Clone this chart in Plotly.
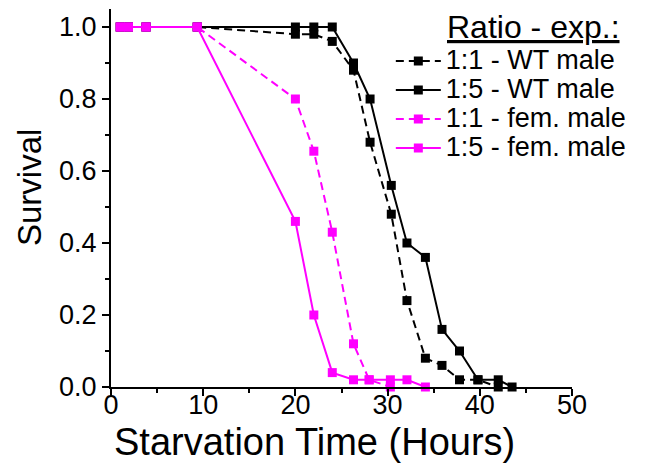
import plotly.graph_objects as go

# Starvation time points (hours)
hours_wt_11 = [1, 1.9, 3.8, 9.35, 20.0, 22.0, 24.0, 26.3, 28.1, 30.4, 32.1, 34.1, 35.9, 37.8, 39.8, 42.0]
surv_wt_11 = [1.0, 1.0, 1.0, 1.0, 0.98, 0.98, 0.96, 0.88, 0.68, 0.48, 0.24, 0.08, 0.06, 0.02, 0.02, 0.0]

hours_wt_15 = [1, 1.9, 3.8, 9.35, 20.0, 22.0, 24.0, 26.3, 28.1, 30.4, 32.1, 34.1, 35.9, 37.8, 39.8, 42.0, 43.5]
surv_wt_15 = [1.0, 1.0, 1.0, 1.0, 1.0, 1.0, 1.0, 0.90, 0.80, 0.56, 0.40, 0.36, 0.16, 0.10, 0.02, 0.02, 0.0]

hours_fem_11 = [1, 1.9, 3.8, 9.35, 20.0, 22.0, 24.0, 26.3, 28.0, 30.3]
surv_fem_11 = [1.0, 1.0, 1.0, 1.0, 0.80, 0.655, 0.43, 0.12, 0.02, 0.0]

hours_fem_15 = [1, 1.9, 3.8, 9.35, 20.0, 22.0, 24.0, 26.3, 28.0, 30.3, 32.1, 34.1]
surv_fem_15 = [1.0, 1.0, 1.0, 1.0, 0.46, 0.20, 0.04, 0.02, 0.02, 0.02, 0.02, 0.0]

x_ticks = [0, 10, 20, 30, 40, 50]
y_ticks = [0.0, 0.2, 0.4, 0.6, 0.8, 1.0]

series = [
    ("1:1 - WT male", hours_wt_11, surv_wt_11, "black", "8px,5px"),
    ("1:5 - WT male", hours_wt_15, surv_wt_15, "black", "solid"),
    ("1:1 - fem. male", hours_fem_11, surv_fem_11, "#FF00FF", "8px,5px"),
    ("1:5 - fem. male", hours_fem_15, surv_fem_15, "#FF00FF", "solid"),
]

FONT = "Liberation Sans, Arial, sans-serif"

fig = go.Figure()
for name, x, y, color, dash in series:
    fig.add_trace(go.Scatter(
        x=x, y=y, mode="lines+markers",
        # larger label text inside compact legend rows
        name=f'<span style="font-size:27px">{name}</span>',
        line=dict(color=color, width=2, dash=dash),
        marker=dict(symbol="square", size=9, color=color),
        cliponaxis=False,
    ))

axis_common = dict(
    showline=True, linecolor="black", linewidth=2,
    ticks="outside", ticklen=7, tickwidth=2, tickcolor="black",
    showgrid=False, zeroline=False, mirror=False,
    tickfont=dict(family=FONT, size=27, color="black"),
)

fig.update_xaxes(
    range=[0, 50], tickvals=x_ticks, ticklabelstandoff=-14,
    minor=dict(tickvals=[5, 15, 25, 35, 45], ticklen=4, tickwidth=2, tickcolor="black", ticks="outside"),
    **axis_common,
)
fig.update_yaxes(
    range=[0, 1.05], tickvals=y_ticks, tickformat=".1f",
    minor=dict(tickvals=[0.1, 0.3, 0.5, 0.7, 0.9], ticklen=4, tickwidth=2, tickcolor="black", ticks="outside"),
    **axis_common,
)

# axis titles and legend heading
fig.add_annotation(
    text="Starvation Time (Hours)", xref="paper", yref="paper",
    x=0.4425, y=-0.1455, xanchor="center", yanchor="middle", showarrow=False,
    font=dict(family=FONT, size=38, color="black"),
)
fig.add_annotation(
    text="Survival", xref="paper", yref="paper", textangle=-90,
    x=(30 - 111) / 461, y=(387 - 188) / 378, xanchor="center", yanchor="middle", showarrow=False,
    font=dict(family=FONT, size=33, color="black"),
)
fig.add_annotation(
    text="Ratio - exp.:", xref="paper", yref="paper",
    x=(445 - 111) / 461, y=(387 - 27) / 378, xanchor="left", yanchor="middle", showarrow=False,
    font=dict(family=FONT, size=32, color="black", lineposition="under"),
)

fig.update_layout(
    width=645, height=466,
    margin=dict(l=111, r=73, t=9, b=79, autoexpand=False),
    plot_bgcolor="white", paper_bgcolor="white",
    font=dict(family=FONT, color="black"),
    legend=dict(
        x=0.607, y=0.914, xanchor="left", yanchor="top",
        bgcolor="rgba(0,0,0,0)",
        font=dict(family=FONT, size=20, color="black"),
        itemwidth=45, tracegroupgap=0,
    ),
)

fig.write_html("out.html")
